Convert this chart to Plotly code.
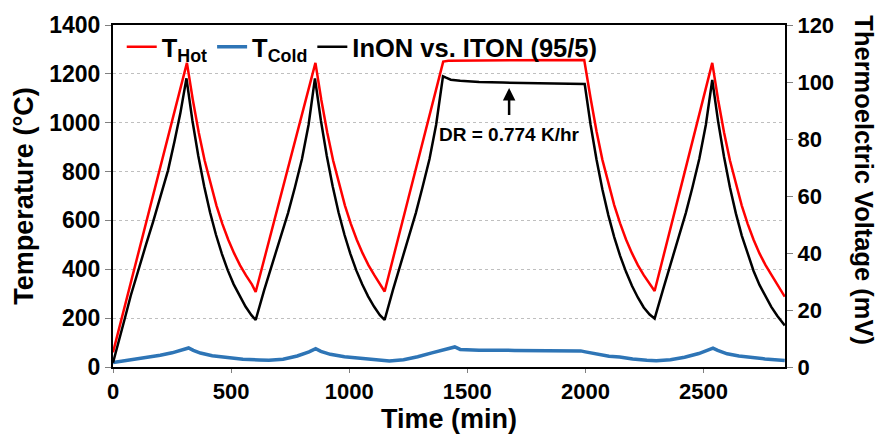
import plotly.graph_objects as go

# ---- data ----
# T_Hot (left axis, degC)
t_hot = [0, 100, 200, 313, 338, 363, 388, 413, 438, 463, 488, 513, 538, 563, 588, 604,
         700, 800, 857, 882, 907, 932, 957, 982, 1007, 1032, 1057, 1082, 1107, 1132, 1150,
         1250, 1350, 1398, 1420, 1600, 1800, 1995,
         2022, 2047, 2072, 2097, 2122, 2147, 2172, 2197, 2222, 2247, 2272, 2293,
         2400, 2500, 2537, 2562, 2587, 2612, 2637, 2662, 2687, 2712, 2737, 2762, 2787, 2812, 2844]
v_hot = [60, 438, 817, 1245, 1093, 960, 845, 747, 661, 586, 521, 465, 416, 375, 338, 307,
         663, 1034, 1245, 1093, 960, 845, 747, 661, 586, 521, 465, 416, 375, 338, 309,
         689, 1068, 1250, 1254, 1255, 1256, 1257,
         1100, 965, 848, 750, 663, 588, 522, 466, 417, 376, 339, 311,
         720, 1103, 1245, 1093, 960, 845, 747, 661, 586, 521, 465, 418, 378, 340, 288]

# T_Cold (left axis, degC)
t_cold = [0, 50, 100, 150, 200, 250, 290, 320, 340, 370, 420, 480, 550, 620, 660, 720, 780, 830, 858,
          880, 920, 980, 1050, 1120, 1170, 1230, 1290, 1350, 1410, 1447, 1470, 1550, 1700, 1850,
          1980, 2000, 2050, 2100, 2145, 2200, 2260, 2300, 2360, 2420, 2480, 2520, 2540, 2560,
          2600, 2650, 2700, 2760, 2844]
v_cold = [18, 25, 32, 40, 48, 58, 68, 78, 68, 57, 46, 38, 32, 29, 28, 32, 45, 62, 75,
          64, 52, 42, 35, 28, 25, 30, 42, 58, 72, 82, 72, 69, 68, 68,
          66, 62, 52, 44, 41, 33, 28, 26, 30, 40, 55, 68, 77, 68,
          54, 45, 38, 33, 27]

# Thermoelectric voltage (right axis, mV)
t_tev = [0, 25, 50, 75, 106, 140, 170, 200, 233, 260, 285, 311,
         336, 361, 386, 411, 436, 461, 486, 511, 536, 561, 586, 604,
         640, 677, 710, 741, 770, 800, 828, 855,
         880, 905, 930, 955, 980, 1005, 1030, 1055, 1080, 1105, 1130, 1150,
         1185, 1220, 1252, 1282, 1310, 1340, 1368, 1397,
         1410, 1430, 1470, 1550, 1650, 1750, 1850, 1950, 1997,
         2022, 2047, 2072, 2097, 2122, 2147, 2172, 2197, 2222, 2247, 2272, 2293,
         2328, 2363, 2395, 2425, 2453, 2482, 2510, 2537,
         2562, 2587, 2612, 2637, 2662, 2687, 2712, 2737, 2762, 2787, 2812, 2844]
v_tev = [1.5, 9, 17, 25, 34, 43, 51, 60, 69, 79, 89, 101.3,
         86.6, 74.1, 63.4, 54.2, 46.4, 39.7, 33.9, 29.0, 24.8, 21.2, 18.2, 16.5,
         27, 37, 46, 54, 63, 73, 85, 101.3,
         86.6, 74.1, 63.4, 54.2, 46.4, 39.7, 33.9, 29.0, 24.8, 21.2, 18.2, 16.5,
         27, 37, 46, 54, 63, 73, 85, 102,
         101.5, 100.8, 100.4, 100.0, 99.8, 99.6, 99.5, 99.4, 99.3,
         85, 72.8, 62.3, 53.3, 45.6, 39.0, 33.4, 28.5, 24.4, 20.9, 18.4, 17.0,
         27, 37, 46, 54, 63, 73, 85, 100.7,
         86.1, 73.7, 63.0, 53.9, 46.1, 39.5, 33.7, 28.8, 24.7, 21.1, 18.0, 14.6]

x_ticks = [0, 500, 1000, 1500, 2000, 2500]
y_ticks = [0, 200, 400, 600, 800, 1000, 1200, 1400]
y2_ticks = [0, 20, 40, 60, 80, 100, 120]

FONT = "Liberation Sans, Arial, sans-serif"

fig = go.Figure()
fig.add_trace(go.Scatter(x=t_hot, y=v_hot, mode="lines", name="T<sub>Hot</sub>",
                         line=dict(color="#FF0000", width=2.5)))
fig.add_trace(go.Scatter(x=t_cold, y=v_cold, mode="lines", name="T<sub>Cold</sub>",
                         line=dict(color="#2E75B6", width=3.5)))
fig.add_trace(go.Scatter(x=t_tev, y=v_tev, mode="lines", name="InON vs. ITON (95/5)",
                         yaxis="y2", line=dict(color="black", width=2.5)))

fig.update_layout(
    width=883, height=439,
    margin=dict(l=113, r=98, t=25, b=72, autoexpand=False),
    paper_bgcolor="white", plot_bgcolor="white",
    font=dict(family=FONT, size=22, color="black", weight="bold"),
    showlegend=True,
    legend=dict(orientation="h", x=0.013, y=0.935, xanchor="left", yanchor="middle",
                bgcolor="rgba(0,0,0,0)", font=dict(family=FONT, size=25.5, weight="bold"),
                itemwidth=30, tracegroupgap=0),
    xaxis=dict(range=[0, 2845], tickvals=x_ticks, showline=True, linecolor="black",
               linewidth=2, mirror=True, ticks="outside", ticklen=4, tickcolor="#808080",
               showgrid=False, zeroline=False, automargin=False,
               tickfont=dict(family=FONT, size=22, weight="bold"),
               title=dict(text="Time (min)", font=dict(family=FONT, size=27, weight="bold"),
                          standoff=1)),
    yaxis=dict(range=[0, 1400], tickvals=y_ticks, showline=True, linecolor="black",
               linewidth=2, mirror=True, ticks="outside", ticklen=6, tickcolor="#808080",
               showgrid=True, gridcolor="#BFBFBF", griddash="dot", gridwidth=1,
               zeroline=False, automargin=False,
               tickfont=dict(family=FONT, size=23, weight="bold"),
               title=dict(text="Temperature (°C)", font=dict(family=FONT, size=27, weight="bold"),
                          standoff=8)),
    yaxis2=dict(range=[0, 120], tickvals=y2_ticks, overlaying="y", side="right",
                showline=True, linecolor="black", linewidth=2, ticks="outside", ticklen=6,
                tickcolor="#808080", showgrid=False, zeroline=False, automargin=False,
                tickfont=dict(family=FONT, size=22, weight="bold")),
    annotations=[
        dict(x=1677, y=1142, xref="x", yref="y", ax=1677, ay=1025, axref="x", ayref="y",
             text="", showarrow=True, arrowhead=2, arrowsize=1, arrowwidth=2.5,
             arrowcolor="black"),
        dict(x=1680, y=950, xref="x", yref="y", text="DR = 0.774 K/hr", showarrow=False,
             font=dict(family=FONT, size=19, weight="bold", color="black")),
        dict(x=1.118, y=0.545, xref="paper", yref="paper", text="Thermoelctric Voltage (mV)",
             textangle=90, showarrow=False, xanchor="center", yanchor="middle",
             font=dict(family=FONT, size=25.5, weight="bold", color="black")),
    ],
)

fig.write_html("out.html")
